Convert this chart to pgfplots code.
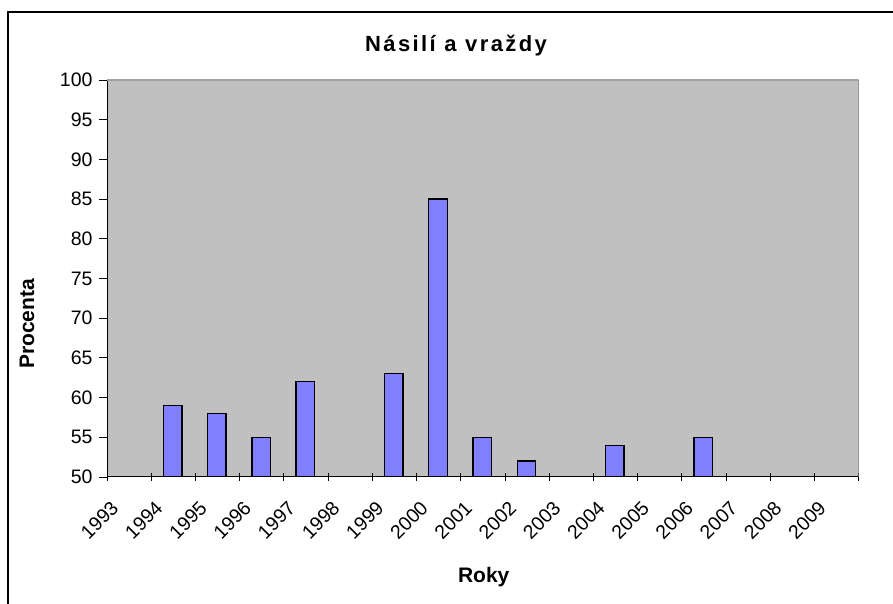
\documentclass[border=0pt]{standalone}
\usepackage{pgfplots}
\pgfplotsset{compat=1.18}
\usepackage{fontspec}
\setmainfont{Liberation Sans}
\newfontfamily\titlefont{Liberation Sans Bold}[LetterSpace=11]
\definecolor{plotgrey}{HTML}{C0C0C0}
\definecolor{barblue}{HTML}{8080FF}
\definecolor{edgegrey}{HTML}{808080}
\definecolor{topgrey}{HTML}{A0A0A0}
\begin{document}
\begin{tikzpicture}[x=1pt,y=1pt]
\useasboundingbox (0,0) rectangle (893,604);
\draw[line width=1.1pt] (8,-5) -- (8,592) -- (900,592);
\begin{axis}[
  at={(107pt,127pt)}, anchor=south west,
  scale only axis, width=751.7pt, height=397pt,
  xmin=1993, xmax=2010, ymin=50, ymax=100,
  axis background/.style={fill=plotgrey},
  axis x line*=bottom, axis y line*=left,
  axis line style={line width=1pt, black},
  ytick={50,55,...,100},
  xtick={1993,...,2010},
  xticklabels={1993,1994,1995,1996,1997,1998,1999,2000,2001,2002,2003,2004,2005,2006,2007,2008,2009,{}},
  xtick align=center, ytick align=outside,
  major tick length=8pt,
  tick style={line width=0.8pt, black},
  /pgf/number format/assume math mode=true,
  yticklabel style={font=\fontsize{19.5}{21}\selectfont, xshift=-3pt},
  xticklabel style={font=\fontsize{19.5}{21}\selectfont, xshift=3pt, yshift=-14pt, rotate=45, anchor=north east},
  clip=true,
]
\addplot[ybar, bar width=18.5pt, bar shift=21.5pt, fill=barblue, draw=black, line width=1.4pt]
  coordinates {(1994,59) (1995,58) (1996,55) (1997,62) (1999,63) (2000,85) (2001,55) (2002,52) (2004,54) (2006,55)};
\draw[topgrey, line width=1.5pt] (rel axis cs:0,1) -- (rel axis cs:1,1);
\draw[edgegrey, line width=1.5pt] (rel axis cs:1,1) -- (rel axis cs:1,0);
\end{axis}
\node[font=\titlefont\fontsize{22}{25}\selectfont, anchor=base] at (456,552) {Násilí a vraždy};
\node[font=\bfseries\fontsize{21}{24}\selectfont, anchor=base] at (483.7,21.3) {Roky};
\node[font=\bfseries\fontsize{21}{24}\selectfont, anchor=base, rotate=90] at (34,280) {Procenta};
\end{tikzpicture}
\end{document}
